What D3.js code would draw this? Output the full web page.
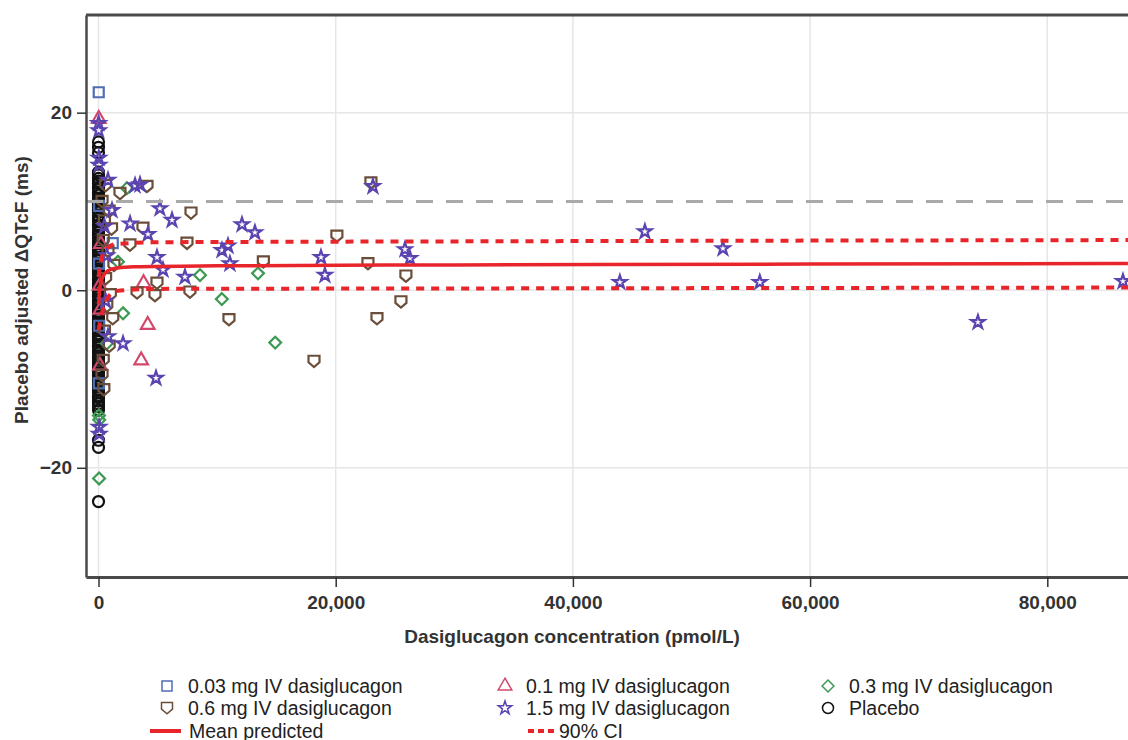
<!DOCTYPE html>
<html>
<head>
<meta charset="utf-8">
<script src="https://cdn.jsdelivr.net/npm/d3@7"></script>
<style>
  body { margin: 0; background: #fff; }
  svg text { font-family: "Liberation Sans", Arial, sans-serif; }
</style>
</head>
<body>
<svg id="chart" width="1128" height="740"></svg>
<script>
// ---- data: [concentration pmol/L, placebo adjusted dQTcF ms] ----
var xTicks = [0, 20000, 40000, 60000, 80000];
var yTicks = [-20, 0, 20];
var refLineValue = 10;

// placebo subjects all sit at concentration 0
var placeboValues = [
  16.7, 16.1, 15.5, 13.3, 13.0, 12.6, 12.3, 12.0, 11.6, 11.4, 11.0, 10.7, 10.3, 10.1,
  9.7, 9.4, 9.0, 8.8, 8.4, 8.1, 7.8, 7.4, 7.2, 6.8, 6.5, 6.2, 5.9, 5.5, 5.3, 4.9, 4.6,
  4.3, 4.0, 3.6, 3.4, 3.0, 2.7, 2.4, 2.1, 1.8, 1.4, 1.2, 0.8, 0.5, 0.2, -0.1, -0.5,
  -0.7, -1.1, -1.4, -1.7, -2.0, -2.4, -2.6, -3.0, -3.3, -3.6, -3.9, -4.3, -4.5, -4.9,
  -5.2, -5.5, -5.8, -6.2, -6.4, -6.8, -7.1, -7.4, -7.7, -8.1, -8.3, -8.7, -9.0, -9.3,
  -9.6, -10.0, -10.2, -10.6, -10.9, -11.2, -11.5, -11.9, -12.1, -12.5, -12.8, -13.1,
  -13.5, -16.9, -17.7, -23.8
];
var placebo = placeboValues.map(function (v) { return [0, v]; });

var dose003 = [[20, 22.3], [50, 9.5], [40, 3.0], [1200, 5.3], [60, -4.0], [30, -10.5]];
var dose01 = [
  [20, 19.3], [200, 5.2], [100, 0.5], [150, -2.2], [120, -8.5],
  [3800, 0.8], [4150, -3.9], [3600, -7.9]
];
var dose03 = [
  [40, -14.1], [60, -14.6], [50, -21.2], [1640, 3.2], [2070, -2.6], [2400, 11.5],
  [8560, 1.7], [10400, -1.0], [13450, 1.9], [14900, -5.9], [700, -6.0]
];
var dose06 = [
  [600, 11.8], [300, 10.0], [900, 8.9], [500, 7.8], [1100, 6.9], [400, 5.6], [800, 4.4],
  [1300, 2.8], [600, 1.3], [1000, -0.5], [700, -1.8], [1200, -3.2], [500, -4.6],
  [900, -6.3], [400, -7.9], [300, -9.6], [450, -11.2],
  [1810, 10.9], [4090, 11.7], [3750, 7.0], [2650, 5.1], [3250, -0.3], [4760, -0.6],
  [4930, 0.8], [7710, -0.2], [7460, 5.3], [7800, 8.7], [11000, -3.3], [13900, 3.2],
  [18170, -8.0], [20100, 6.1], [22720, 3.0], [22970, 12.1], [23480, -3.2],
  [25500, -1.3], [25920, 1.6]
];
var dose15 = [
  [10, 18.8], [20, 18.0], [30, 14.9], [40, 14.1], [50, -15.4], [60, -16.2],
  [500, 7.2], [700, 3.9], [600, -1.2], [800, -5.2],
  [800, 12.4], [1140, 9.0], [3080, 11.8], [3500, 11.9], [2660, 7.5], [4170, 6.3],
  [4930, 3.7], [5440, 2.3], [5180, 9.2], [6200, 7.9], [7290, 1.5], [2070, -6.0],
  [4850, -9.9], [10410, 4.5], [10920, 5.0], [11080, 3.0], [12100, 7.4], [13190, 6.5],
  [18760, 3.7], [19090, 1.7], [23140, 11.7], [25840, 4.6], [26260, 3.6],
  [43960, 0.9], [46070, 6.6], [52650, 4.7], [55760, 0.9], [74150, -3.6], [86380, 1.0]
];
var meanPredicted = [
  [0, -1.5], [150, 0.6], [400, 1.6], [800, 2.2], [1500, 2.5], [3000, 2.65],
  [10000, 2.75], [30000, 2.85], [60000, 2.95], [86800, 3.0]
];
var ciUpper = [
  [0, 1.5], [300, 3.8], [800, 4.8], [1500, 5.2], [5000, 5.4], [30000, 5.5], [86800, 5.65]
];
var ciLower = [
  [0, -4.5], [300, -2.5], [800, -0.8], [1500, -0.1], [5000, 0.15], [30000, 0.2], [86800, 0.3]
];

var groupNames = ['0.03 mg IV dasiglucagon', '0.1 mg IV dasiglucagon', '0.3 mg IV dasiglucagon',
  '0.6 mg IV dasiglucagon', '1.5 mg IV dasiglucagon', 'Placebo'];
var groupData = [dose003, dose01, dose03, dose06, dose15, placebo];

// ---- symbols ----
var symShield = {
  draw: function (ctx, size) {
    var r = Math.sqrt(size) / 2;
    ctx.moveTo(-r, -r);
    ctx.lineTo(r, -r);
    ctx.lineTo(r, 0.2 * r);
    ctx.lineTo(0, 1.05 * r);
    ctx.lineTo(-r, 0.2 * r);
    ctx.closePath();
  }
};
var symDiamond = {
  draw: function (ctx, size) {
    var r = Math.sqrt(size) / 2 * 1.25;
    ctx.moveTo(0, -r);
    ctx.lineTo(r, 0);
    ctx.lineTo(0, r);
    ctx.lineTo(-r, 0);
    ctx.closePath();
  }
};

var groupStyle = [
  { type: d3.symbolSquare, size: 100, color: '#4f6cb5' },
  { type: d3.symbolTriangle, size: 80, color: '#d2486a' },
  { type: symDiamond, size: 90, color: '#3d9a52' },
  { type: symShield, size: 121, color: '#6b4e3a' },
  { type: d3.symbolStar, size: 55, color: '#5b44b0' },
  { type: d3.symbolCircle, size: 95, color: '#111111' }
];

var svg = d3.select('#chart');
var plotLeft = 86, plotRight = 1128, plotTop = 15, plotBottom = 577;

var x = d3.scaleLinear().domain([-1054, 86804]).range([plotLeft, plotRight]);
var y = d3.scaleLinear().domain([-32.3, 31.0]).range([plotBottom, plotTop]);

// grid
svg.append('g').selectAll('line')
  .data(xTicks).enter()
  .append('line')
  .attr('x1', function (d) { return x(d); })
  .attr('x2', function (d) { return x(d); })
  .attr('y1', plotTop).attr('y2', plotBottom)
  .attr('stroke', '#e6e6e6').attr('stroke-width', 1.5);

svg.append('g').selectAll('line')
  .data(yTicks).enter()
  .append('line')
  .attr('x1', plotLeft).attr('x2', plotRight)
  .attr('y1', function (d) { return y(d); })
  .attr('y2', function (d) { return y(d); })
  .attr('stroke', '#e6e6e6').attr('stroke-width', 1.5);

// markers: placebo first, doses on top
var drawOrder = [5, 0, 1, 2, 3, 4];
drawOrder.forEach(function (gi) {
  var st = groupStyle[gi];
  svg.append('g').selectAll('path')
    .data(groupData[gi]).enter()
    .append('path')
    .attr('d', d3.symbol().type(st.type).size(st.size))
    .attr('transform', function (d) { return 'translate(' + x(d[0]) + ',' + y(d[1]) + ')'; })
    .attr('fill', 'none')
    .attr('stroke', st.color)
    .attr('stroke-width', 2.2);
});

// lines
var line = d3.line()
  .x(function (d) { return x(d[0]); })
  .y(function (d) { return y(d[1]); })
  .curve(d3.curveMonotoneX);

svg.append('line')
  .attr('x1', plotLeft).attr('x2', plotRight)
  .attr('y1', y(refLineValue)).attr('y2', y(refLineValue))
  .attr('stroke', '#a9a9a9').attr('stroke-width', 3)
  .attr('stroke-dasharray', '17,13');

[ciUpper, ciLower].forEach(function (ci) {
  svg.append('path')
    .datum(ci)
    .attr('d', line)
    .attr('fill', 'none')
    .attr('stroke', '#e8252b')
    .attr('stroke-width', 4)
    .attr('stroke-dasharray', '8,7');
});

svg.append('path')
  .datum(meanPredicted)
  .attr('d', line)
  .attr('fill', 'none')
  .attr('stroke', '#e8252b')
  .attr('stroke-width', 3.5);

// frame
svg.append('line').attr('x1', plotLeft).attr('x2', plotRight).attr('y1', plotTop).attr('y2', plotTop)
  .attr('stroke', '#4a4a4a').attr('stroke-width', 3);

var xAxis = svg.append('g')
  .attr('transform', 'translate(0,' + plotBottom + ')')
  .call(d3.axisBottom(x).tickValues(xTicks).tickSize(10).tickSizeOuter(0)
    .tickPadding(9).tickFormat(d3.format(',')));

var yAxis = svg.append('g')
  .attr('transform', 'translate(' + plotLeft + ',0)')
  .call(d3.axisLeft(y).tickValues(yTicks).tickSize(9).tickSizeOuter(0).tickPadding(5));

xAxis.select('.domain').attr('stroke', '#4a4a4a').attr('stroke-width', 3);
yAxis.select('.domain').attr('stroke', '#4a4a4a').attr('stroke-width', 2.5);
[xAxis, yAxis].forEach(function (ax) {
  ax.selectAll('.tick line').attr('stroke', '#333').attr('stroke-width', 1.5);
  ax.selectAll('.tick text')
    .attr('fill', '#333')
    .style('font-size', '19px')
    .style('font-weight', 'bold')
    .style('font-family', '"Liberation Sans", Arial, sans-serif');
});

// axis titles
svg.append('text')
  .text('Dasiglucagon concentration (pmol/L)')
  .attr('x', 572).attr('y', 643)
  .attr('text-anchor', 'middle')
  .attr('fill', '#333')
  .style('font-size', '19px')
  .style('font-weight', 'bold');

svg.append('text')
  .text('Placebo adjusted \u0394QTcF (ms)')
  .attr('transform', 'translate(28,290) rotate(-90)')
  .attr('text-anchor', 'middle')
  .attr('fill', '#333')
  .style('font-size', '19px')
  .style('font-weight', 'bold');

// legend
var legendCols = [167, 505, 828];
var legendRows = [686, 708];
var legend = svg.append('g');
groupNames.forEach(function (name, i) {
  var lx = legendCols[i % 3], ly = legendRows[Math.floor(i / 3)];
  var st = groupStyle[i];
  legend.append('path')
    .attr('d', d3.symbol().type(st.type).size(st.size))
    .attr('transform', 'translate(' + lx + ',' + ly + ')')
    .attr('fill', 'none')
    .attr('stroke', st.color)
    .attr('stroke-width', 1.5);
  legend.append('text')
    .text(name)
    .attr('x', lx + 21).attr('y', ly + 7)
    .attr('fill', '#222')
    .style('font-size', '19.5px');
});

var lineRowY = 731;
legend.append('line')
  .attr('x1', 150).attr('x2', 181).attr('y1', lineRowY).attr('y2', lineRowY)
  .attr('stroke', '#e8252b').attr('stroke-width', 4);
legend.append('text').text('Mean predicted')
  .attr('x', 189).attr('y', lineRowY + 7).attr('fill', '#222').style('font-size', '19.5px');
legend.append('line')
  .attr('x1', 528).attr('x2', 554).attr('y1', lineRowY).attr('y2', lineRowY)
  .attr('stroke', '#e8252b').attr('stroke-width', 4).attr('stroke-dasharray', '6,4');
legend.append('text').text('90% CI')
  .attr('x', 559).attr('y', lineRowY + 7).attr('fill', '#222').style('font-size', '19.5px');
</script>
</body>
</html>
